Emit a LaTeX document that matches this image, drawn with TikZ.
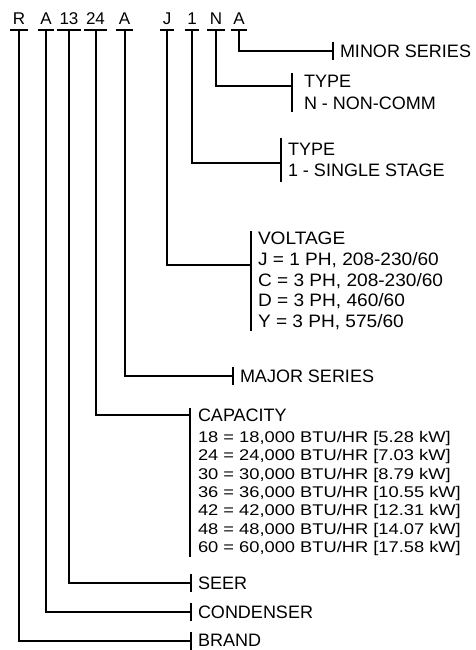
\documentclass[tikz,border=0pt]{standalone}
\usepackage{fontspec}
\setmainfont{Liberation Sans}
\newfontfamily\stretchA[FakeStretch=1.06]{Liberation Sans}
\newfontfamily\stretchB[FakeStretch=1.18]{Liberation Sans}
\begin{document}
\begin{tikzpicture}[x=1pt,y=-1pt, line width=2pt,
  code/.style={font=\fontsize{17}{18}\selectfont, anchor=base, inner xsep=2.5pt, inner ysep=5pt, text depth=0pt, outer sep=0pt},
  lone/.style={font=\fontsize{18}{22}\selectfont, anchor=west, text height=12.9pt, text depth=0pt, inner ysep=2.55pt, inner xsep=7pt, outer sep=0pt},
  multi/.style={anchor=north west, align=left, inner xsep=7pt, outer sep=0pt},
  barline/.style={line width=2.4pt}]
\useasboundingbox (0,0) rectangle (475,650);
\fill[white] (0,0) rectangle (475,650);
% code letters
\node[code] (cR) at (19,25) {R};
\node[code] (cA1) at (46,25) {A};
\node[code] (c13) at (69,25) {13};
\node[code] (c24) at (95.5,25) {24};
\node[code] (cA2) at (124.5,25) {A};
\node[code] (cJ) at (167,25) {J};
\node[code] (c1) at (192,25) {1};
\node[code] (cN) at (216,25) {N};
\node[code] (cA3) at (239,25) {A};
\foreach \n in {cR,cA1,c13,c24,cA2,cJ,c1,cN,cA3}
  \draw (\n.south west) -- (\n.south east);
% labels
\node[lone] (minor) at (333,51) {MINOR SERIES};
\node[multi, inner xsep=12pt, inner ysep=2pt, font=\fontsize{18}{22}\selectfont] (typeN) at (292,73) {TYPE\\N - NON-COMM};
\coordinate (jN) at (292,86);
\node[multi, inner ysep=5pt, font=\fontsize{18}{21}\selectfont] (type1) at (281,138) {TYPE\\1 - SINGLE STAGE};
\coordinate (j1) at (281,163);
\node[multi, inner ysep=1pt, font=\stretchA\fontsize{18}{20.8}\selectfont] (volt) at (251,231) {VOLTAGE\\J = 1 PH, 208-230/60\\C = 3 PH, 208-230/60\\D = 3 PH, 460/60\\Y = 3 PH, 575/60};
\coordinate (jJ) at (251,265);
\node[lone] (major) at (233,376) {MAJOR SERIES};
\node[multi, inner xsep=8pt, inner ysep=1pt, font=\stretchB\fontsize{15.5}{18.3}\selectfont] (cap) at (190,408) {{\normalfont\fontsize{18}{18.3}\selectfont CAPACITY}\\[2.7pt]18 = 18,000 BTU/HR [5.28 kW]\\24 = 24,000 BTU/HR [7.03 kW]\\30 = 30,000 BTU/HR [8.79 kW]\\36 = 36,000 BTU/HR [10.55 kW]\\42 = 42,000 BTU/HR [12.31 kW]\\48 = 48,000 BTU/HR [14.07 kW]\\60 = 60,000 BTU/HR [17.58 kW]};
\coordinate (jcap) at (190,415);
\node[lone] (seer) at (191,583) {SEER};
\node[lone] (cond) at (191,612) {CONDENSER};
\node[lone] (brand) at (191,640.5) {BRAND};
% bars
\foreach \n in {minor,typeN,type1,volt,major,cap,seer,cond,brand}
  \draw[barline] (\n.north west) -- (\n.south west);
% connectors
\draw (cA3.south) |- (minor.west);
\draw (cN.south) |- (jN);
\draw (c1.south) |- (j1);
\draw (cJ.south) |- (jJ);
\draw (cA2.south) |- (major.west);
\draw (c24.south) |- (jcap);
\draw (c13.south) |- (seer.west);
\draw (cA1.south) |- (cond.west);
\draw (cR.south) |- (brand.west);
\end{tikzpicture}
\end{document}
